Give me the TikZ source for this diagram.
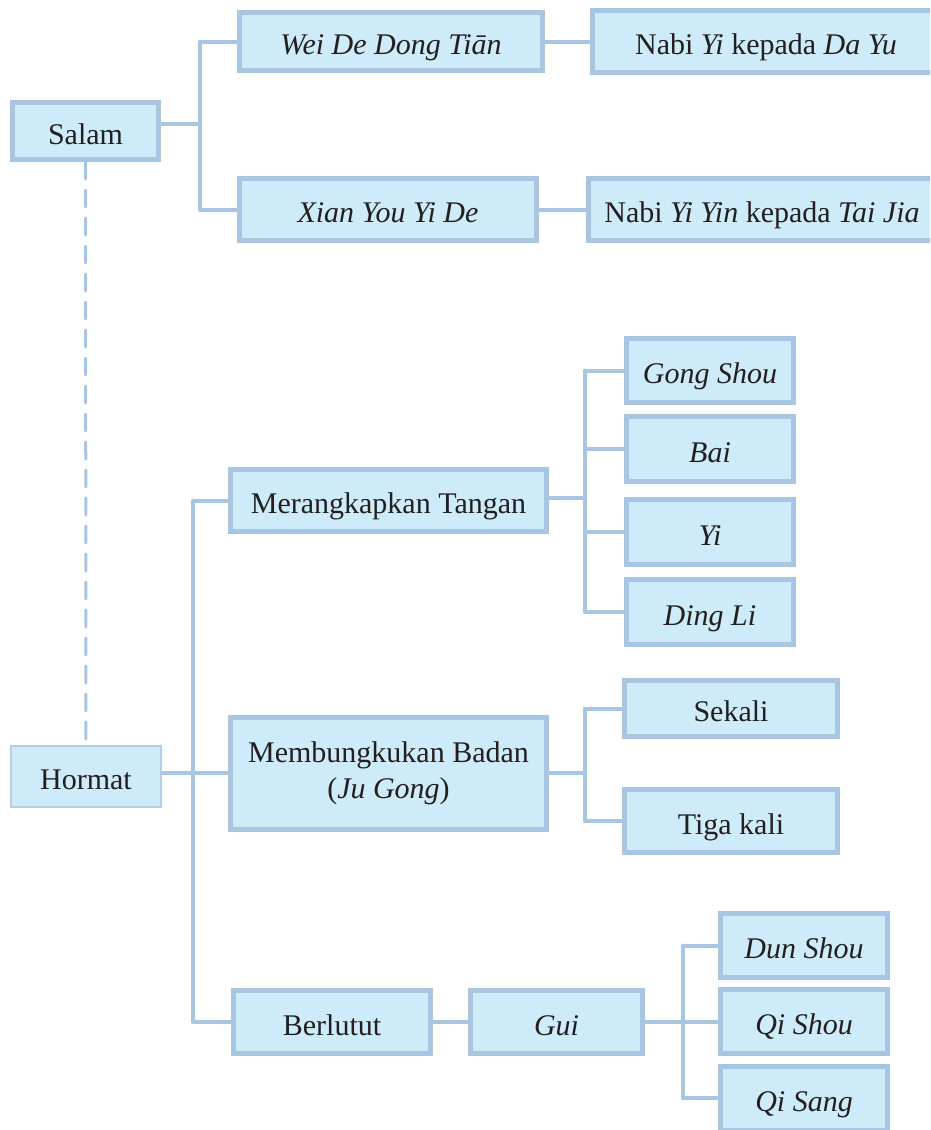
\documentclass[tikz,border=0pt]{standalone}
\usepackage{fontspec}
\setmainfont{Liberation Serif}
\usepackage{tikz}
\usetikzlibrary{positioning}

\definecolor{boxfill}{HTML}{CDEBF8}
\definecolor{boxline}{HTML}{A8C5E2}
\definecolor{ink}{HTML}{231F20}

\begin{document}
\begin{tikzpicture}[x=1pt,y=-1pt,font=\fontsize{30}{36}\selectfont]
\tikzstyle{item}=[draw=boxline, fill=boxfill, line width=5pt, text=ink, inner sep=0pt, align=center, minimum height=62pt, execute at begin node={\rule[-7pt]{0pt}{40pt}}]
\tikzstyle{link}=[draw=boxline, line width=4pt, line cap=round, line join=round]
\useasboundingbox (0,0) rectangle (930,1130);
\clip (0,0) rectangle (930,1130);

% salam branch
\node[item, minimum width=146pt, minimum height=57pt] (salam) at (85.5,131) {Salam};
\node[item, minimum width=303pt, minimum height=58pt] (wei) at (391,41.5) {\textit{Wei De Dong Tiān}};
\node[item, minimum width=347pt] (nabia) at (766,41.5) {Nabi \textit{Yi} kepada \textit{Da Yu}};
\node[item, minimum width=297pt] (xian) at (388,209.5) {\textit{Xian You Yi De}};
\node[item, minimum width=347pt] (nabib) at (762,209.5) {Nabi \textit{Yi Yin} kepada \textit{Tai Jia}};

% hormat branch
\node[item, draw=boxline!85, line width=2.5pt, minimum width=150pt, minimum height=61pt] (hormat) at (86,776.5) {Hormat};
\node[item, minimum width=316pt] (merang) at (388.5,500.5) {Merangkapkan Tangan};
\node[item, minimum width=316pt, minimum height=112pt] (membung) at (388.5,773.5) {Membungkukan Badan\\(\textit{Ju Gong})};
\node[item, minimum width=197pt, minimum height=63pt] (berlutut) at (332,1022) {Berlutut};
\node[item, minimum width=172pt, minimum height=63pt] (gui) at (556.5,1022) {\textit{Gui}};

\node[item, minimum width=167pt, minimum height=64pt] (gong) at (710,370.5) {\textit{Gong Shou}};
\node[item, minimum width=167pt, minimum height=65pt] (bai) at (710,449) {\textit{Bai}};
\node[item, minimum width=167pt, minimum height=65pt] (yi) at (710,532) {\textit{Yi}};
\node[item, minimum width=167pt, minimum height=65pt] (ding) at (710,612) {\textit{Ding Li}};

\node[item, minimum width=213pt, minimum height=56pt] (sekali) at (731,708.5) {Sekali};
\node[item, minimum width=213pt, minimum height=63pt] (tiga) at (731,821) {Tiga kali};

\node[item, minimum width=167pt, minimum height=64pt] (dun) at (804,945.5) {\textit{Dun Shou}};
\node[item, minimum width=167pt, minimum height=64pt] (qishou) at (804,1021.5) {\textit{Qi Shou}};
\node[item, minimum width=167pt, minimum height=64pt] (qisang) at (804,1098) {\textit{Qi Sang}};

% junctions
\coordinate (sj) at (200,124);
\coordinate (hj) at (193,773);
\coordinate (mj) at (585,498);
\coordinate (bj) at (585,773);
\coordinate (gj) at (683,1022);

\draw[link] (salam.east |- sj) -- (sj) (wei.west) -| (sj) |- (xian.west);
\path[link] (wei) edge (nabia)
            (xian) edge (nabib)
            (berlutut) edge (gui);
\draw[link, line width=3pt, dash pattern=on 17pt off 11pt] (salam.south) -- (hormat.north);

\draw[link] (hormat.east |- hj) -- (membung.west |- hj) (merang.west) -| (hj) |- (berlutut.west);

\draw[link] (merang.east |- mj) -- (mj) (mj |- gong.west) -- (mj |- ding.west);
\foreach \n in {gong,bai,yi,ding}
  \draw[link] (mj |- \n.west) -- (\n.west);

\draw[link] (membung.east |- bj) -- (bj) (mj |- sekali.west) -- (mj |- tiga.west);
\foreach \n in {sekali,tiga}
  \draw[link] (bj |- \n.west) -- (\n.west);

\draw[link] (gui.east) -- (gj) (gj |- dun.west) -- (gj |- qisang.west);
\foreach \n in {dun,qishou,qisang}
  \draw[link] (gj |- \n.west) -- (\n.west);
\end{tikzpicture}
\end{document}
